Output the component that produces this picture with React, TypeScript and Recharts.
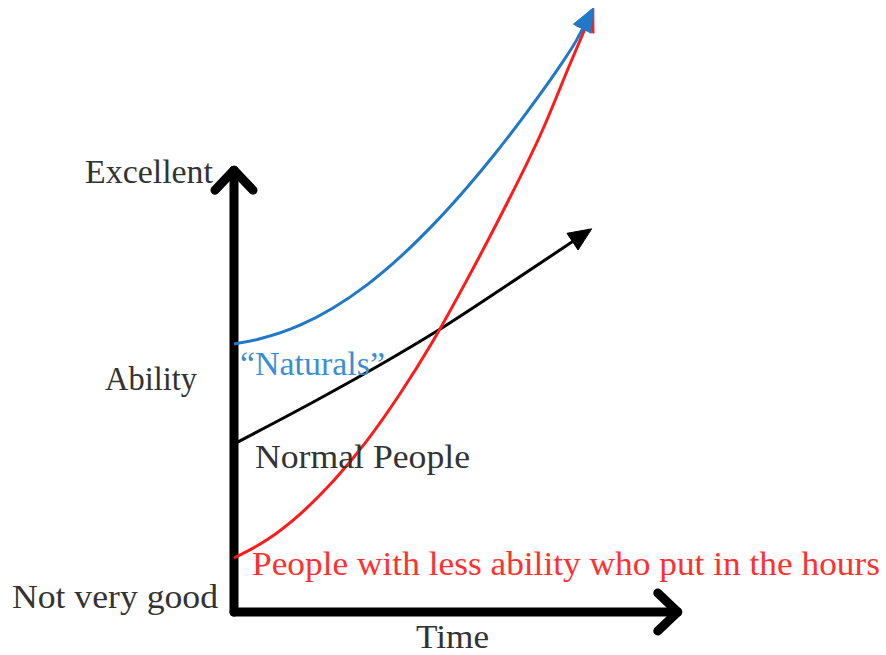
import React from 'react';
import { ComposedChart, Line, XAxis, YAxis, ReferenceLine, ReferenceDot } from 'recharts';

// ---- data (time 0-100, ability 0-100) ----
const naturalsTime = [0, 5.83, 14.8, 22.2, 29.82, 37.22, 44.62, 52.24, 58.07, 65.7, 73.09, 76.68, 80.27];
const naturalsAbility = [44.52, 45.38, 47.64, 50.5, 54.34, 58.94, 64.3, 70.51, 75.7, 83.04, 90.71, 94.83, 100];

const normalTime = [0, 18.61, 33.86, 45.52, 59.64, 79.82];
const normalAbility = [27.91, 35.22, 41.53, 46.68, 53.49, 63.46];

const hoursTime = [0, 7.4, 15.02, 22.42, 29.82, 37.22, 44.62, 52.02, 59.64, 69.28, 75.34, 80.49];
const hoursAbility = [8.97, 11.99, 16.4, 21.88, 28.46, 36.25, 45.02, 54.88, 65.61, 80.23, 91.03, 100];

const axisTop = 73.4;
const axisRight = 99.5;

const labelExcellent = 'Excellent';
const labelAbility = 'Ability';
const labelNotGood = 'Not very good';
const labelTime = 'Time';
const labelNaturals = '\u201CNaturals\u201D';
const labelNormal = 'Normal People';
const labelHours = 'People with less ability who put in the hours';

const zip = (xs: number[], ys: number[]) => xs.map((t, i) => ({ t, v: ys[i] }));
const naturals = zip(naturalsTime, naturalsAbility);
const normal = zip(normalTime, normalAbility);
const hours = zip(hoursTime, hoursAbility);

const BLUE = '#1f78c8';
const RED = '#ff1a1a';
const FONT = '"Liberation Serif", "Times New Roman", serif';
const FS = 33;

const AxisArrow = (p: any) => {
  const { x1, y1, x2, y2 } = p;
  const dx = x2 - x1, dy = y2 - y1;
  const len = Math.sqrt(dx * dx + dy * dy) || 1;
  const ux = dx / len, uy = dy / len;
  const back = 20, side = 19;
  const ax = x2 - ux * back - uy * side, ay = y2 - uy * back + ux * side;
  const bx = x2 - ux * back + uy * side, by = y2 - uy * back - ux * side;
  return (
    <g>
      <line x1={x1} y1={y1} x2={x2} y2={y2} stroke="#000" strokeWidth={9} strokeLinecap="round" />
      <polyline points={`${ax},${ay} ${x2},${y2} ${bx},${by}`} fill="none" stroke="#000" strokeWidth={9} strokeLinecap="round" strokeLinejoin="round" />
    </g>
  );
};

const makeHead = (color: string) => (p: any) => {
  const { x1, y1, x2, y2 } = p;
  const dx = x2 - x1, dy = y2 - y1;
  const len = Math.sqrt(dx * dx + dy * dy) || 1;
  const ux = dx / len, uy = dy / len;
  const back = 21, side = 10;
  const ax = x2 - ux * back - uy * side, ay = y2 - uy * back + ux * side;
  const bx = x2 - ux * back + uy * side, by = y2 - uy * back - ux * side;
  return <polygon points={`${x2 + ux * 2},${y2 + uy * 2} ${ax},${ay} ${bx},${by}`} fill={color} stroke={color} strokeWidth={1} />;
};

const makeText = (text: string, color: string, len: number) => (p: any) => (
  <text x={p.cx} y={p.cy} fill={color} fontFamily={FONT} fontSize={FS} textAnchor="start" textLength={len} lengthAdjust="spacingAndGlyphs">
    {text}
  </text>
);

const last2 = (arr: { t: number; v: number }[]) => [
  { x: arr[arr.length - 2].t, y: arr[arr.length - 2].v },
  { x: arr[arr.length - 1].t, y: arr[arr.length - 1].v },
];

export default function App() {
  return (
    <div style={{ position: 'absolute', left: 0, top: 0, width: 886, height: 655, background: '#fff' }}>
      <ComposedChart width={886} height={655} margin={{ top: 10, right: 206, bottom: 43, left: 234 }}>
        <XAxis dataKey="t" type="number" domain={[0, 100]} hide />
        <YAxis dataKey="v" type="number" domain={[0, 100]} hide />

        <ReferenceLine segment={[{ x: 0, y: 0 }, { x: 0, y: axisTop }]} shape={AxisArrow} ifOverflow="visible" />
        <ReferenceLine segment={[{ x: 0, y: 0 }, { x: axisRight, y: 0 }]} shape={AxisArrow} ifOverflow="visible" />

        <Line data={normal} dataKey="v" type="monotone" stroke="#000" strokeWidth={3} dot={false} isAnimationActive={false} />
        <Line data={hours} dataKey="v" type="monotone" stroke={RED} strokeWidth={3} dot={false} isAnimationActive={false} />
        <Line data={naturals} dataKey="v" type="monotone" stroke={BLUE} strokeWidth={3} dot={false} isAnimationActive={false} />

        <ReferenceLine segment={last2(normal)} shape={makeHead('#000')} ifOverflow="visible" />
        <ReferenceLine segment={last2(hours)} shape={makeHead(RED)} ifOverflow="visible" />
        <ReferenceLine segment={last2(naturals)} shape={makeHead(BLUE)} ifOverflow="visible" />

        <ReferenceDot x={-33.41} y={71.26} ifOverflow="visible" shape={makeText(labelExcellent, '#333', 128)} />
        <ReferenceDot x={-28.92} y={36.88} ifOverflow="visible" shape={makeText(labelAbility, '#333', 92)} />
        <ReferenceDot x={-49.78} y={0.66} ifOverflow="visible" shape={makeText(labelNotGood, '#333', 206)} />
        <ReferenceDot x={40.81} y={-5.98} ifOverflow="visible" shape={makeText(labelTime, '#333', 73)} />
        <ReferenceDot x={1.35} y={39.37} ifOverflow="visible" shape={makeText(labelNaturals, '#3a8fd4', 145)} />
        <ReferenceDot x={4.71} y={23.92} ifOverflow="visible" shape={makeText(labelNormal, '#333', 215)} />
        <ReferenceDot x={4.04} y={6.15} ifOverflow="visible" shape={makeText(labelHours, '#ff3030', 628)} />
      </ComposedChart>
    </div>
  );
}
